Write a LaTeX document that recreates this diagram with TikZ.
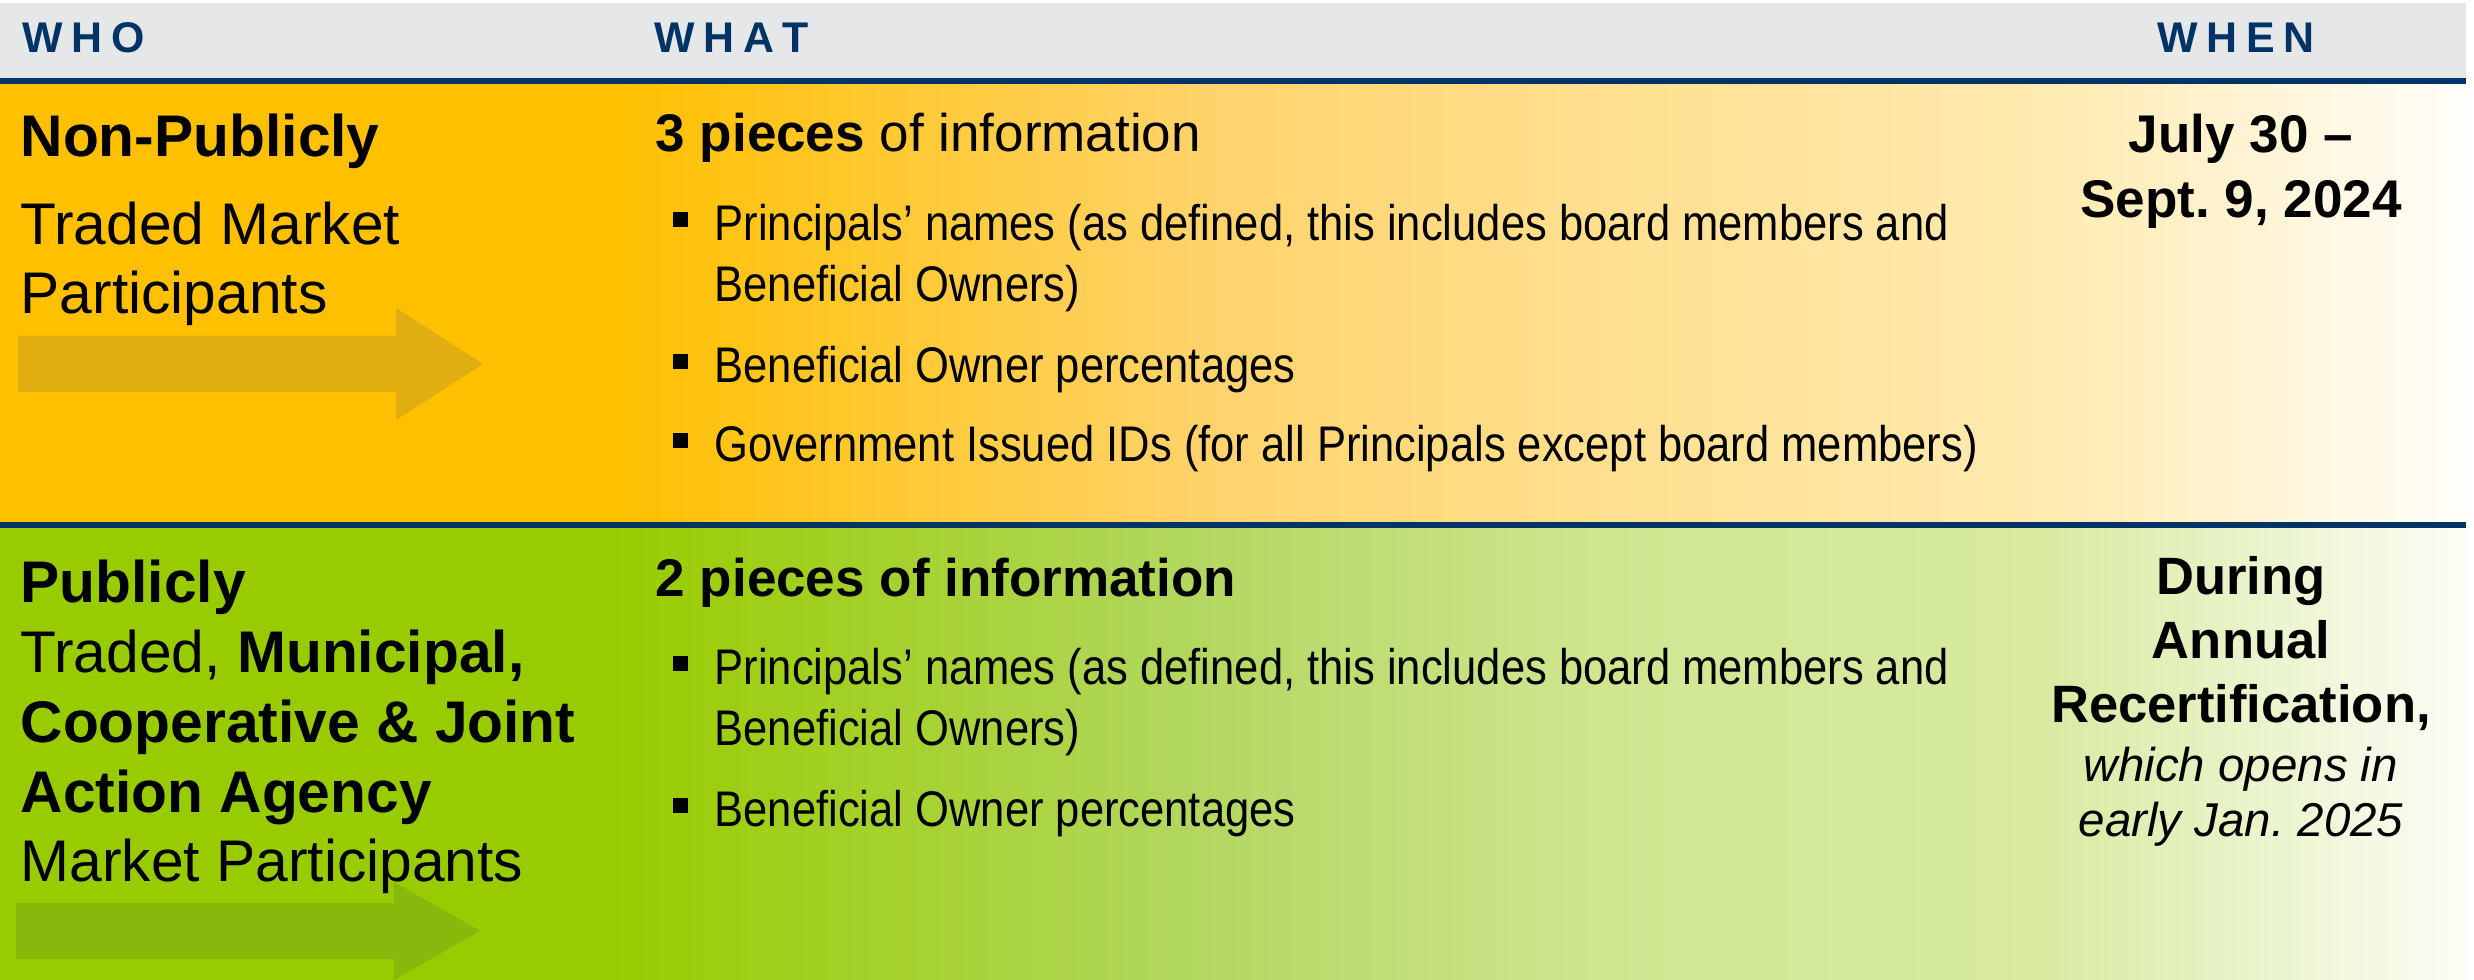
\documentclass[tikz,border=0pt]{standalone}
\usepackage{fontspec}
\setmainfont{Liberation Sans}
\newfontfamily\condfont[FakeStretch=0.87]{Liberation Sans}
\frenchspacing
\definecolor{navy}{HTML}{003366}
\definecolor{hdrgrey}{HTML}{E6E7E9}
\definecolor{ya}{HTML}{FFC000}
\definecolor{yb}{HTML}{FFD36A}
\definecolor{yc}{HTML}{FFE08F}
\definecolor{yd}{HTML}{FFEAB0}
\definecolor{ye}{HTML}{FFFEFA}
\definecolor{ga}{HTML}{99CC00}
\definecolor{gb}{HTML}{B3D760}
\definecolor{gc}{HTML}{CFE690}
\definecolor{gd}{HTML}{D8EBA2}
\definecolor{ge}{HTML}{FBFDF6}
\definecolor{arrowY}{HTML}{E0AE10}
\definecolor{arrowG}{HTML}{88B80C}
\newcommand{\bsq}{\llap{\rule[4.1pt]{4.27pt}{4.27pt}\hspace{7.7pt}}}
\newcommand{\ls}{\hspace{2.4pt}}
\begin{document}
\begin{tikzpicture}[x=0.01cm,y=-0.01cm,
  hdr/.style={anchor=base west, inner sep=0, text=navy, font=\bfseries\fontsize{12.2}{14}\selectfont},
  whotext/.style={anchor=base west, inner sep=0, align=left, font=\fontsize{16.7}{19.9}\selectfont},
  whathead/.style={anchor=base west, inner sep=0, font=\fontsize{15.08}{18}\selectfont},
  bullettext/.style={anchor=base west, inner sep=0, align=left, font=\condfont\fontsize{14.23}{17.36}\selectfont},
  whentext/.style={anchor=base, inner sep=0, align=center, font=\bfseries\fontsize{15.08}{18.5}\selectfont},
  whenbold/.style={anchor=base, inner sep=0, align=center, font=\bfseries\fontsize{14.94}{18.2}\selectfont},
  whennote/.style={anchor=base, inner sep=0, align=center, font=\itshape\fontsize{13.5}{15.65}\selectfont}]
\useasboundingbox (0,0) rectangle (2474,980);
\fill[white] (0,0) rectangle (2474,980);
% header band
\fill[hdrgrey] (0,3) rectangle (2466,78);
% row 1 background
\fill[ya] (0,84) rectangle (616,522);
\shade[left color=ya,right color=yb] (615,84) rectangle (1201,522);
\shade[left color=yb,right color=yc] (1200,84) rectangle (1601,522);
\shade[left color=yc,right color=yd] (1600,84) rectangle (2051,522);
\shade[left color=yd,right color=ye] (2050,84) rectangle (2466,522);
% row 2 background
\fill[ga] (0,528) rectangle (616,980);
\shade[left color=ga,right color=gb] (615,528) rectangle (1201,980);
\shade[left color=gb,right color=gc] (1200,528) rectangle (1601,980);
\shade[left color=gc,right color=gd] (1600,528) rectangle (2051,980);
\shade[left color=gd,right color=ge] (2050,528) rectangle (2466,980);
% rules
\fill[navy] (0,78) rectangle (2466,84);
\fill[navy] (0,522) rectangle (2466,528);
% arrows
\fill[arrowY] (18,336) -- (396,336) -- (396,308) -- (483,364) -- (396,420) -- (396,392) -- (18,392) -- cycle;
\fill[arrowG] (16,903) -- (394,903) -- (394,882) -- (480,931) -- (394,980) -- (394,959) -- (16,959) -- cycle;
% header texts
\node[hdr] (who) at (22,53) {W\ls H\ls O};
\node[hdr] (what) at (654,53) {W\ls H\ls A\ls T};
\node[hdr] (when) at (2157,53) {W\ls H\ls E\ls N};
% row 1 (anchor base = baseline of last line)
\node[whotext] (who1) at (20,314) {\textbf{Non-Publicly}\\[4.85pt]Traded Market\\Participants};
\node[whathead] (what1) at (655,152) {\textbf{3 pieces} of information};
\node[bullettext] (b11) at (714,302) {\bsq Principals’ names (as defined, this includes board members and\\Beneficial Owners)};
\node[bullettext] (b12) at (714,383) {\bsq Beneficial Owner percentages};
\node[bullettext] (b13) at (714,462) {\bsq Government Issued IDs (for all Principals except board members)};
\node[whentext] (when1) at (2241,218) {July 30 –\\Sept. 9, 2024};
% row 2
\node[whotext] (who2) at (20,882) {\textbf{Publicly}\\Traded, \textbf{Municipal,}\\\textbf{Cooperative \& Joint}\\\textbf{Action Agency}\\Market Participants};
\node[whathead] (what2) at (655,597) {\textbf{2 pieces of information}};
\node[bullettext] (b21) at (714,746) {\bsq Principals’ names (as defined, this includes board members and\\Beneficial Owners)};
\node[bullettext] (b22) at (714,827) {\bsq Beneficial Owner percentages};
\node[whenbold] (when2) at (2241,723) {During\\Annual\\Recertification,};
\node[whennote] (when2note) at (2241,837) {which opens in\\early Jan. 2025};
\end{tikzpicture}
\end{document}
